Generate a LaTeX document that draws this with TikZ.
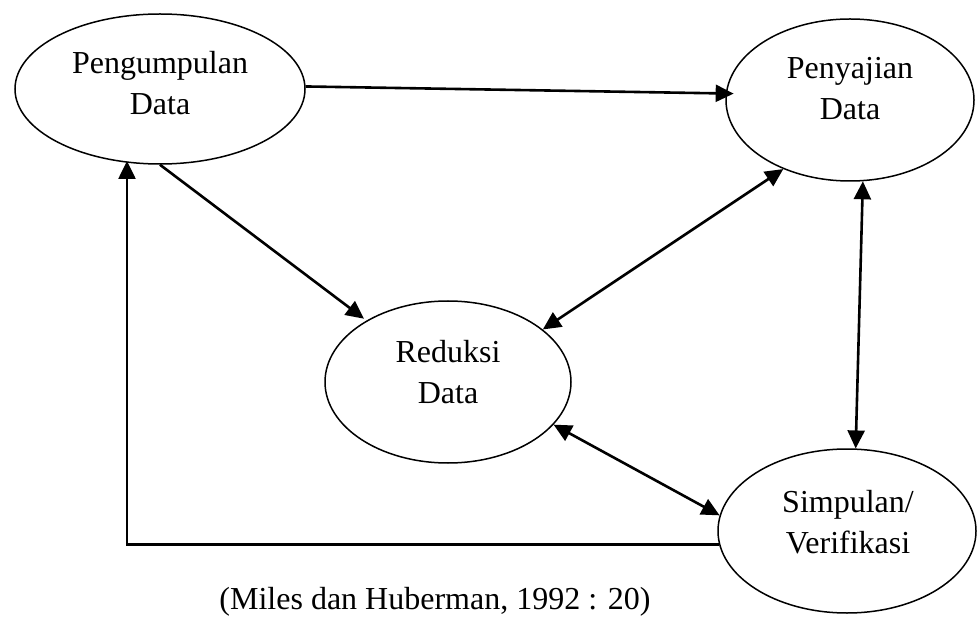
\documentclass[tikz,border=0pt]{standalone}
\usepackage{fontspec}
\setmainfont{Liberation Serif}
\usetikzlibrary{arrows.meta,shapes.geometric}
\begin{document}
\begin{tikzpicture}[x=1pt,y=-1pt,
  ell/.style={draw, ellipse, line width=1.5pt, inner sep=0pt},
  lbl/.style={align=center, font=\fontsize{32}{41}\selectfont, inner sep=0pt},
  arr/.style={line width=2.6pt, -{Triangle[length=18pt,width=17pt]}},
  darr/.style={line width=2.6pt, {Triangle[length=18pt,width=17pt]}-{Triangle[length=18pt,width=17pt]}}]
\useasboundingbox (0,0) rectangle (977,617);
% ellipses
\node[ell, minimum width=290pt, minimum height=150pt] (pd) at (160,89) {};
\node[ell, minimum width=248pt, minimum height=162pt] (py) at (850,100) {};
\node[ell, minimum width=246pt, minimum height=162pt] (rd) at (448,382) {};
\node[ell, minimum width=258pt, minimum height=164pt] (sv) at (847,531) {};
% labels
\node[lbl] (tpd) at (160,83) {Pengumpulan\\Data};
\node[lbl] (tpy) at (850,89) {Penyajian\\Data};
\node[lbl] (trd) at (448,372) {Reduksi\\Data};
\node[lbl] (tsv) at (848,522) {Simpulan/\\Verifikasi};
\node[lbl, anchor=base] (cap) at (435,609) {(Miles dan Huberman, 1992 : 20)};
% connectors
\draw[arr, shorten >=-8pt] (pd.1.2) -- (py.177.7);
\draw[arr, shorten >=3pt] (pd.south) -- (rd.143.7);
\draw[darr] (py.226.3) -- (rd.29.1);
\draw[darr] (py.-81.7) -- (sv.84.4);
\draw[darr] (rd.-22.7) -- (sv.173.6);
\coordinate (up) at (127,164);
\draw[arr, shorten >=-3pt] (sv.186.2) -| (up);
\end{tikzpicture}
\end{document}
